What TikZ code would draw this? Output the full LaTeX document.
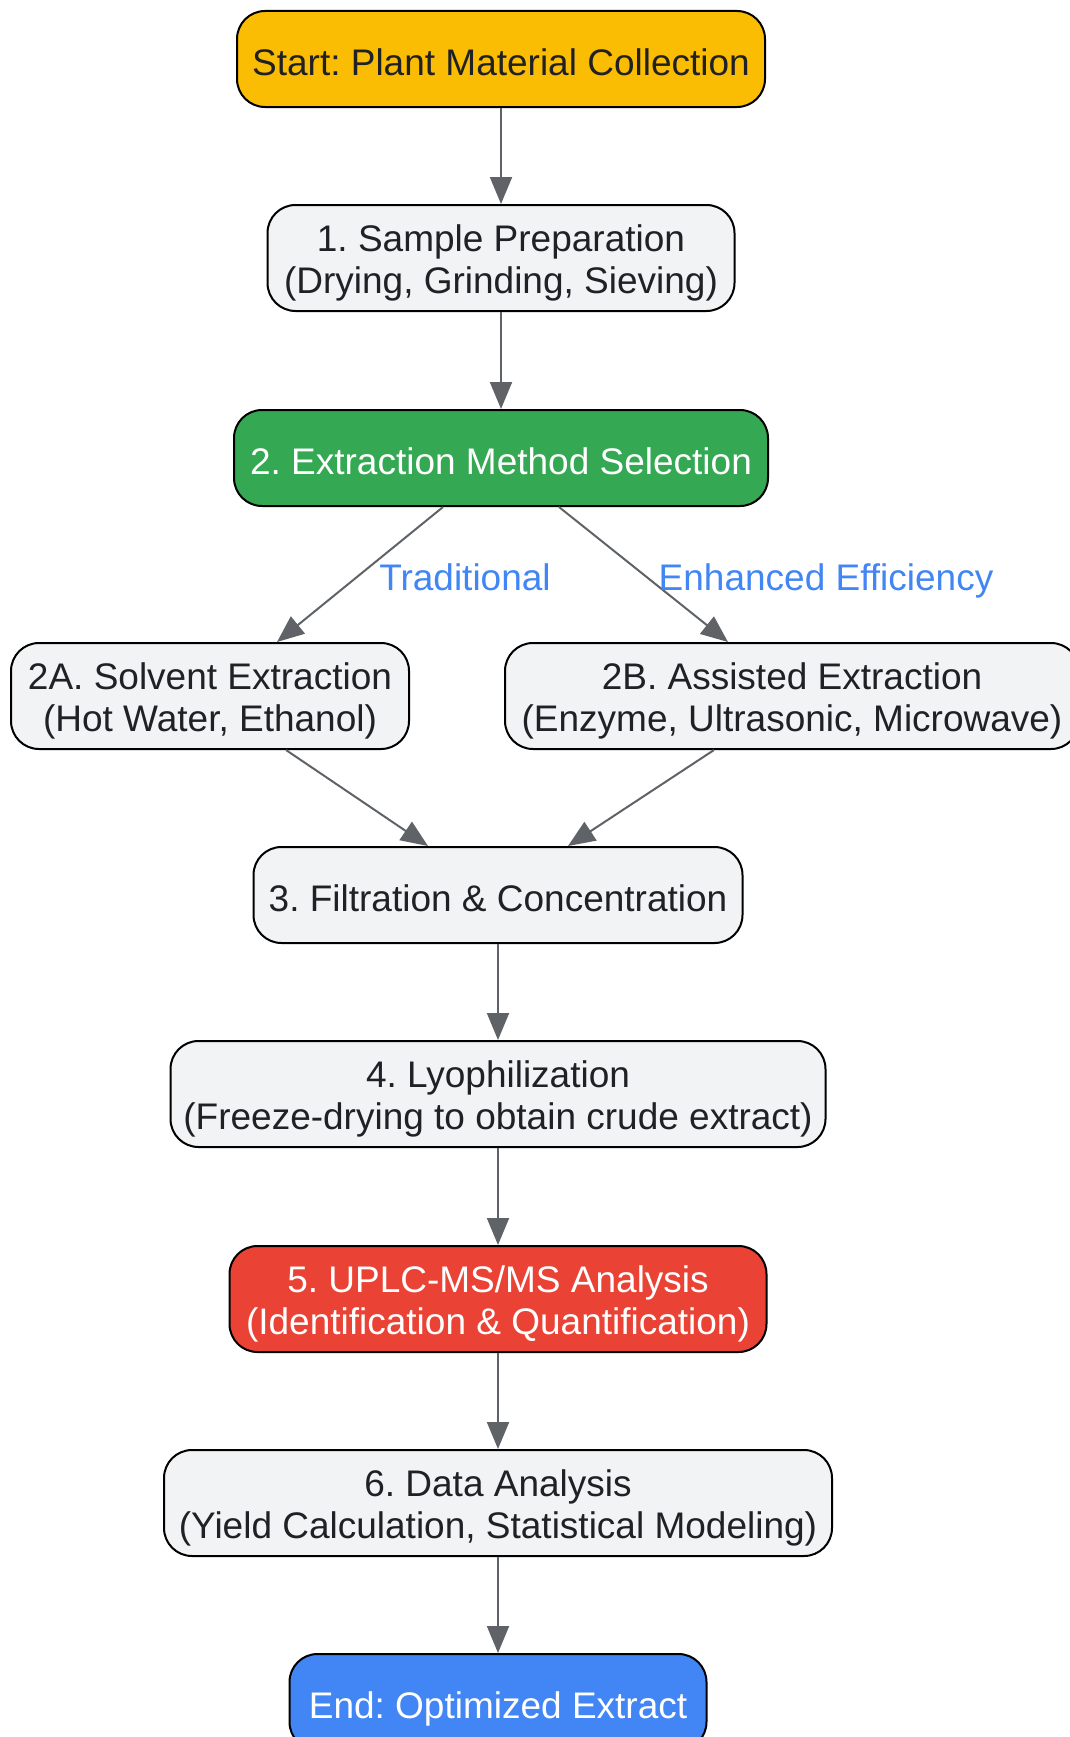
\documentclass[tikz,border=0pt]{standalone}
\usepackage{fontspec}
\setmainfont{Liberation Sans}
\usetikzlibrary{arrows.meta}

\definecolor{txtdark}{RGB}{32,33,36}
\definecolor{boxgray}{RGB}{241,243,244}
\definecolor{arrowgray}{RGB}{95,99,104}
\definecolor{startyellow}{RGB}{251,188,4}
\definecolor{selgreen}{RGB}{52,168,83}
\definecolor{msred}{RGB}{234,67,53}
\definecolor{endblue}{RGB}{66,133,244}

\begin{document}
\frenchspacing
\begin{tikzpicture}[x=1pt,y=-1pt,
  box/.style={draw=black, line width=2pt, rounded corners=28pt, fill=boxgray, text=txtdark,
    align=center, minimum height=96pt, inner xsep=12pt, inner ysep=14pt,
    text height=33pt, text depth=1pt, font=\fontsize{37}{42}\selectfont},
  twoline/.style={text height=74pt, text depth=4pt},
  flow/.style={draw=arrowgray, line width=2pt, -{Triangle[length=27pt,width=22pt]}},
  lbl/.style={text=endblue, inner sep=0pt, text height=27pt, text depth=8pt,
    font=\fontsize{37}{42}\selectfont}]
\useasboundingbox (0,0) rectangle (1070,1737);
\clip (0,0) rectangle (1070,1737);

% Step Nodes
\node [box, fill=startyellow, minimum width=528pt] (start) at (501,59) {Start: Plant Material Collection};
\node [box, twoline, minimum width=467pt] (prep) at (501,258) {1. Sample Preparation\\(Drying, Grinding, Sieving)};
\node [box, fill=selgreen, text=white, minimum width=534pt] (select) at (501,458) {2. Extraction Method Selection};
\node [box, twoline, minimum width=398pt] (solvent) at (210,696) {2A. Solvent Extraction\\(Hot Water, Ethanol)};
\node [box, twoline, minimum width=574pt] (assist) at (792,696) {2B. Assisted Extraction\\(Enzyme, Ultrasonic, Microwave)};
\node [box, minimum width=489pt] (filter) at (498,895) {3. Filtration \& Concentration};
\node [box, twoline, minimum width=655pt] (lyo) at (498,1094) {4. Lyophilization\\(Freeze-drying to obtain crude extract)};
\node [box, twoline, fill=msred, text=white, minimum width=537pt] (uplc) at (498,1299) {5. UPLC-MS/MS Analysis\\(Identification \& Quantification)};
\node [box, twoline, minimum width=668pt] (data) at (498,1503) {6. Data Analysis\\(Yield Calculation, Statistical Modeling)};
\node [box, fill=endblue, text=white, minimum width=417pt] (finish) at (498,1702) {End: Optimized Extract};

% Connectors
\draw [flow] (start) -- (prep);
\draw [flow] (prep) -- (select);
\draw [flow] ([xshift=-58pt]select.south) -- ([xshift=67pt]solvent.north);
\draw [flow] ([xshift=58pt]select.south) -- ([xshift=-64pt]assist.north);
\draw [flow] ([xshift=76pt]solvent.south) -- ([xshift=-70pt]filter.north);
\draw [flow] ([xshift=-78pt]assist.south) -- ([xshift=70pt]filter.north);
\draw [flow] (filter) -- (lyo);
\draw [flow] (lyo) -- (uplc);
\draw [flow] (uplc) -- (data);
\draw [flow] (data) -- (finish);

% Text Node
\node [lbl] (trad) at (465,581) {Traditional};
% Text Node
\node [lbl] (enh) at (826,581) {Enhanced Efficiency};

\end{tikzpicture}
\end{document}
